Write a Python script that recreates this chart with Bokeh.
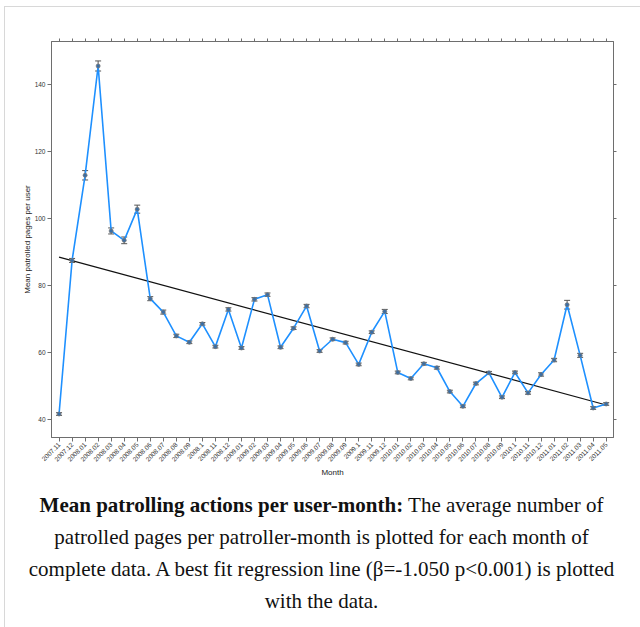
import math
from bokeh.plotting import figure
from bokeh.models import (ColumnDataSource, Range1d, FixedTicker, LinearAxis, Whisker,
                          TeeHead, Div)
from bokeh.layouts import column
from bokeh.embed import file_html
from bokeh.resources import INLINE

months = ["2007.11", "2007.12",
          "2008.01", "2008.02", "2008.03", "2008.04", "2008.05", "2008.06", "2008.07",
          "2008.08", "2008.09", "2008.1", "2008.11", "2008.12",
          "2009.01", "2009.02", "2009.03", "2009.04", "2009.05", "2009.06", "2009.07",
          "2009.08", "2009.09", "2009.1", "2009.11", "2009.12",
          "2010.01", "2010.02", "2010.03", "2010.04", "2010.05", "2010.06", "2010.07",
          "2010.08", "2010.09", "2010.1", "2010.11", "2010.12",
          "2011.01", "2011.02", "2011.03", "2011.04", "2011.05"]

mean_pages = [41.7, 87.5, 112.9, 145.5, 96.3, 93.5, 102.8, 76.1, 72.1, 65.0, 63.1,
              68.6, 61.8, 72.9, 61.4, 75.9, 77.3, 61.6, 67.3, 73.9, 60.5, 64.0,
              63.0, 56.5, 66.1, 72.3, 54.1, 52.3, 56.7, 55.5, 48.4, 44.0, 50.8,
              54.0, 46.7, 54.1, 48.0, 53.5, 57.8, 74.3, 59.2, 43.5, 44.7]

std_err = [0.4, 0.6, 1.4, 1.5, 0.9, 1.0, 1.2, 0.6, 0.6, 0.5, 0.4,
           0.4, 0.4, 0.5, 0.4, 0.5, 0.5, 0.4, 0.4, 0.5, 0.4, 0.4,
           0.4, 0.4, 0.4, 0.6, 0.4, 0.4, 0.4, 0.4, 0.4, 0.4, 0.4,
           0.4, 0.4, 0.4, 0.4, 0.5, 0.5, 1.3, 0.6, 0.4, 0.4]

y_ticks = [40, 60, 80, 100, 120, 140]

fit_intercept = 88.5
fit_slope = -1.05

idx = list(range(len(months)))
src = ColumnDataSource(dict(
    x=idx, y=mean_pages,
    upper=[m + e for m, e in zip(mean_pages, std_err)],
    lower=[m - e for m, e in zip(mean_pages, std_err)],
))

FONT = "Liberation Sans"
AX = "#6e6e6e"

p = figure(width=635, height=482, output_backend="svg", toolbar_location=None,
           x_range=Range1d(-0.58, 42.56), y_range=Range1d(34.7, 152.8),
           min_border_left=46, min_border_right=27, min_border_top=34, min_border_bottom=52,
           background_fill_color="white", border_fill_color="white")
p.grid.visible = False
p.outline_line_color = AX
p.outline_line_width = 1

# bottom axis
xa = p.xaxis[0]
xa.ticker = FixedTicker(ticks=idx)
xa.major_label_overrides = {i: m for i, m in zip(idx, months)}
xa.major_label_orientation = math.pi / 4
xa.major_label_text_font = FONT
xa.major_label_text_font_size = "6.5px"
xa.major_label_text_color = "#333333"
xa.major_label_standoff = 2
xa.major_tick_out = 4
xa.major_tick_in = 0
xa.minor_tick_out = 0
xa.minor_tick_in = 0
xa.axis_line_color = AX
xa.major_tick_line_color = AX
xa.axis_label = "Month"
xa.axis_label_text_font = FONT
xa.axis_label_text_font_size = "8px"
xa.axis_label_text_font_style = "normal"
xa.axis_label_text_color = "#222222"
xa.axis_label_standoff = 1

# left axis
ya = p.yaxis[0]
ya.ticker = FixedTicker(ticks=y_ticks)
ya.major_label_text_font = FONT
ya.major_label_text_font_size = "6.5px"
ya.major_label_text_color = "#333333"
ya.major_label_orientation = "horizontal"
ya.major_label_standoff = 2
ya.major_tick_out = 4
ya.major_tick_in = 0
ya.minor_tick_out = 0
ya.minor_tick_in = 0
ya.axis_line_color = AX
ya.major_tick_line_color = AX
ya.axis_label = "Mean patrolled pages per user"
ya.axis_label_text_font = FONT
ya.axis_label_text_font_size = "8px"
ya.axis_label_text_font_style = "normal"
ya.axis_label_text_color = "#222222"
ya.axis_label_standoff = 0

# top and right tick-only axes (no labels)
top = LinearAxis(ticker=FixedTicker(ticks=idx),
                 major_label_overrides={i: "" for i in idx},
                 major_tick_out=3, major_tick_in=0, minor_tick_out=0, minor_tick_in=0,
                 axis_line_color=AX, major_tick_line_color=AX, major_label_standoff=0)
right = LinearAxis(ticker=FixedTicker(ticks=y_ticks),
                   major_label_overrides={t: "" for t in y_ticks},
                   major_tick_out=3, major_tick_in=0, minor_tick_out=0, minor_tick_in=0,
                   axis_line_color=AX, major_tick_line_color=AX, major_label_standoff=0)
p.add_layout(top, "above")
p.add_layout(right, "right")

# regression line
fx = [idx[0], idx[-1]]
fy = [fit_intercept + fit_slope * v for v in fx]
p.line(fx, fy, line_color="#111111", line_width=1.2)

# data line
p.line("x", "y", source=src, line_color="#1e90ff", line_width=1.6)

# error bars
w = Whisker(source=src, base="x", upper="upper", lower="lower", dimension="height",
            line_color="#555555", line_width=1,
            upper_head=TeeHead(size=6, line_color="#555555", line_width=1),
            lower_head=TeeHead(size=6, line_color="#555555", line_width=1))
p.add_layout(w)

# points
p.scatter("x", "y", source=src, marker="circle", size=4,
          fill_color="#3a6ea5", line_color="#777777", line_width=0.8)

caption = Div(
    text=('<div style="width:635px;position:relative;top:-5px;left:-6px;'
          'font-family:\'Liberation Serif\',serif;font-size:21px;'
          'line-height:32px;text-align:center;color:#111;white-space:nowrap;">'
          '<b>Mean patrolling actions per user-month:</b> The average number of<br>'
          'patrolled pages per patroller-month is plotted for each month of<br>'
          'complete data. A best fit regression line (&beta;=-1.050 p&lt;0.001) is plotted<br>'
          'with the data.</div>'),
    width=635, height=134)

layout = column(p, caption, margin=(6, 0, 0, 4),
                styles={"border-top": "1px solid #d8d8d8", "border-left": "1px solid #d8d8d8",
                        "background-color": "white"})

open("out.html", "w").write(file_html(layout, INLINE))
